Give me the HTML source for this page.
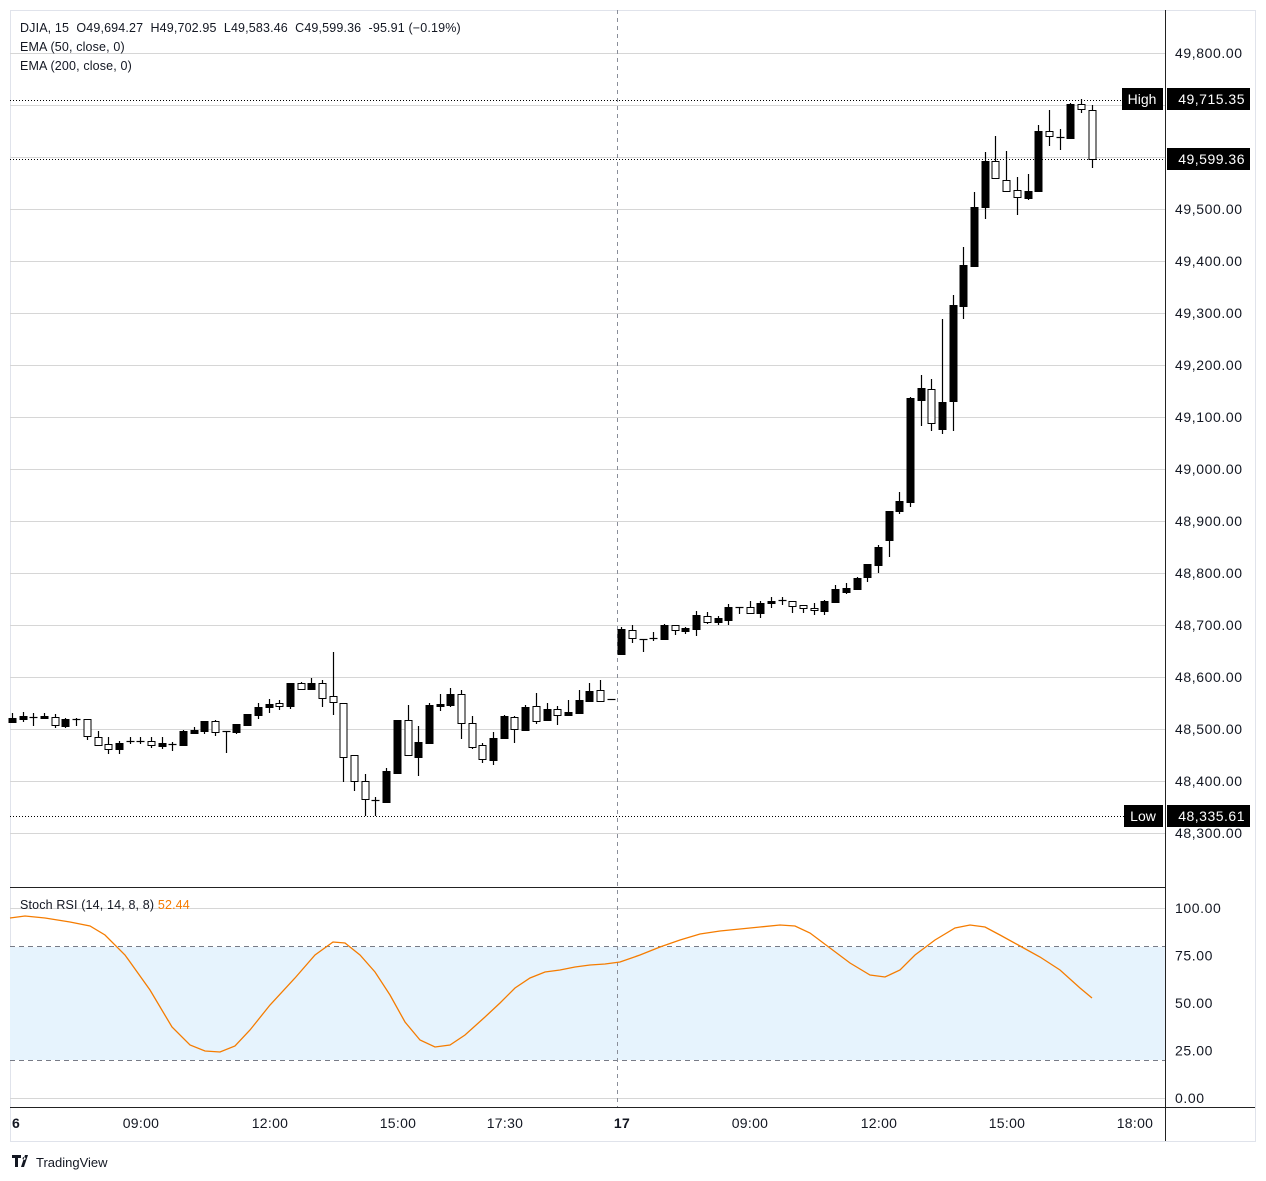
<!DOCTYPE html>
<html><head><meta charset="utf-8"><style>
html,body{margin:0;padding:0;background:#fff;}
svg{display:block;font-family:"Liberation Sans",sans-serif;}
text{white-space:pre;}
</style></head><body>
<svg id="s" width="1266" height="1181" viewBox="0 0 1266 1181" xmlns="http://www.w3.org/2000/svg">
<rect x="0" y="0" width="1266" height="1181" fill="#fff"/>
<rect x="10.5" y="10.5" width="1245" height="1131" fill="none" stroke="#e0e3eb"/>
<g id="grid" stroke="#d6d6d6" stroke-width="1"></g>
<rect x="10" y="947" width="1155" height="113" fill="#e6f3fd"/>
<line x1="10" y1="946.5" x2="1165" y2="946.5" stroke="#787b86" stroke-dasharray="5,4"/>
<line x1="10" y1="1060.5" x2="1165" y2="1060.5" stroke="#787b86" stroke-dasharray="5,4"/>
<line x1="617.5" y1="10" x2="617.5" y2="1108" stroke="#8a8e99" stroke-dasharray="4,4"/>
<line x1="10" y1="100.5" x2="1165" y2="100.5" stroke="#000" stroke-dasharray="1,2"/>
<line x1="10" y1="159.5" x2="1165" y2="159.5" stroke="#000" stroke-dasharray="1,2"/>
<line x1="10" y1="816.5" x2="1165" y2="816.5" stroke="#000" stroke-dasharray="1,2"/>
<g id="candles"></g>
<polyline fill="none" stroke="#f57c00" stroke-width="1.3" points="10,918 25,916 45,918 70,922 90,926 105,935 125,955 150,990 172,1027 190,1045 205,1051 220,1052 235,1046 250,1030 270,1005 295,978 315,955 333,942 345,943 360,955 375,972 390,995 405,1022 420,1040 435,1047 450,1045 465,1035 485,1017 500,1003 515,988 530,978 545,972 560,970 575,967 590,965 605,964 620,962 640,955 660,947 680,940 700,934 720,931 740,929 760,927 780,925 795,926 810,933 830,948 850,963 870,975 885,977 900,970 915,955 935,940 955,928 970,925 985,927 1000,935 1020,946 1040,957 1060,970 1080,988 1092,998"/>
<line x1="10" y1="887.5" x2="1165" y2="887.5" stroke="#222"/>
<line x1="10" y1="1107.5" x2="1255" y2="1107.5" stroke="#222"/>
<line x1="1165.5" y1="10" x2="1165.5" y2="1141" stroke="#222"/>
<g font-size="12.5" fill="#131722" letter-spacing="0.15">
<text x="20" y="32">DJIA, 15  O49,694.27  H49,702.95  L49,583.46  C49,599.36  -95.91 (−0.19%)</text>
<text x="20" y="51">EMA (50, close, 0)</text>
<text x="20" y="70">EMA (200, close, 0)</text>
<text x="20" y="909">Stoch RSI (14, 14, 8, 8) <tspan fill="#f57c00">52.44</tspan></text>
</g>
<g id="axis" font-size="14" fill="#131722" letter-spacing="0.6"></g>
<g font-size="14" fill="#131722" text-anchor="middle" letter-spacing="0.3">
<text x="16" y="1128" font-weight="bold">6</text>
<text x="141" y="1128">09:00</text><text x="270" y="1128">12:00</text><text x="398" y="1128">15:00</text><text x="505" y="1128">17:30</text>
<text x="622" y="1128" font-weight="bold">17</text>
<text x="750" y="1128">09:00</text><text x="879" y="1128">12:00</text><text x="1007" y="1128">15:00</text><text x="1135" y="1128">18:00</text>
</g>
<rect x="1122" y="88" width="41" height="22" fill="#000"/><text x="1142" y="104" font-size="14" fill="#fff" text-anchor="middle">High</text>
<rect x="1167" y="88" width="83" height="22" fill="#000"/><text x="1245" y="104" font-size="14" fill="#fff" text-anchor="end" letter-spacing="0.5">49,715.35</text>
<rect x="1167" y="148" width="83" height="22" fill="#000"/><text x="1245" y="164" font-size="14" fill="#fff" text-anchor="end" letter-spacing="0.5">49,599.36</text>
<rect x="1124" y="805" width="39" height="22" fill="#000"/><text x="1143" y="821" font-size="14" fill="#fff" text-anchor="middle">Low</text>
<rect x="1167" y="805" width="83" height="22" fill="#000"/><text x="1245" y="821" font-size="14" fill="#fff" text-anchor="end" letter-spacing="0.5">48,335.61</text>
<g transform="translate(12,1155)"><path d="M0 0h9v3h-3v9h-3v-9h-3z M9 12l4-12h3l-4 12z M12 2a1.5 1.5 0 1 0 0.1 0" fill="#131722"/></g>
<text x="36" y="1167" font-size="13" fill="#131722">TradingView</text>
</svg>
<script>
var NS="http://www.w3.org/2000/svg";
function el(p,t,a){var e=document.createElementNS(NS,t);for(var k in a)e.setAttribute(k,a[k]);p.appendChild(e);return e;}
var g=document.getElementById('grid'),ax=document.getElementById('axis');
for(var p=49800;p>=48300;p-=100){var y=53+(49800-p)*0.52;el(g,'line',{x1:10,x2:1165,y1:y+0.5,y2:y+0.5});
if(p!=49700){var t=el(ax,'text',{x:1175,y:y+5});t.textContent=(p/1000).toFixed(3).replace('.',',')+'.00';}}
[[100,908],[75,955.5],[50,1003],[25,1050.5],[0,1098]].forEach(function(a){el(g,'line',{x1:10,x2:1165,y1:a[1]+0.5,y2:a[1]+0.5});var t=el(ax,'text',{x:1175,y:a[1]+5});t.textContent=a[0].toFixed(2);});
var C=[[718,722,713,722,1],[716,719,712,721,1],[717,717,713,725,2],[716,718,713,718,1],[717,725,714,727,0],[719,726,718,727,1],[719,719,718,725,2],[719,736,719,739,0],[737,745,731,745,0],[744,749,737,753,0],[743,749,741,753,1],[741,741,737,743,2],[741,741,737,743,2],[741,745,737,747,0],[743,746,737,748,1],[744,744,742,750,2],[731,745,730,745,1],[730,733,727,733,1],[721,731,721,733,1],[721,732,720,735,0],[731,731,731,752,2],[724,732,724,733,1],[714,725,714,725,1],[707,715,703,718,1],[704,707,699,712,1],[703,706,700,709,0],[683,706,683,708,1],[683,689,682,689,0],[683,689,678,689,1],
[683,698,680,706,0],[696,702,652,714,0],[703,757,703,781,0],[755,781,755,790,0],[781,799,774,815,0],[800,800,797,815,2],[771,802,768,802,1],[720,773,720,773,1],[720,755,705,755,0],[742,757,726,775,1],[705,743,703,743,1],[704,706,694,710,1],[694,705,688,706,1],[694,723,690,738,0],[723,747,716,748,0],[745,759,743,762,0],[738,760,732,764,1],[716,738,715,738,1],[717,729,716,742,0],[707,730,705,730,1],[706,721,693,723,0],[709,720,703,720,1],[709,715,706,724,0],[712,715,700,715,1],[700,713,690,713,1],[691,701,683,701,1],[690,701,680,701,0],[699,699,699,699,2],
[629,654,627,654,1],[630,638,625,642,0],[639,639,639,651,2],[638,638,632,640,2],[625,639,624,639,1],[625,630,625,634,0],[628,631,627,633,1],[615,629,611,635,1],[616,622,612,623,0],[618,622,616,624,1],[607,620,604,624,1],[607,607,607,613,2],[607,613,601,613,0],[603,613,601,617,1],[601,603,597,607,1],[600,600,597,604,2],[601,606,601,612,0],[605,608,605,612,0],[608,610,603,614,0],[601,611,600,614,1],[589,602,585,602,1],[588,592,583,593,1],[578,589,577,589,1],[564,577,564,581,1],[547,565,545,572,1],[511,540,511,556,1],[501,511,492,513,1],[398,502,397,506,1],[388,400,375,425,1],[389,423,379,430,0],[402,429,319,433,1],[305,401,295,430,1],[265,306,247,318,1],[207,266,192,266,1],[161,207,152,218,1],[161,178,136,178,0],[180,191,151,191,0],[190,197,177,214,0],[191,198,174,199,1],[131,191,125,191,1],[131,136,110,145,0],[137,137,129,149,2],[104,138,103,138,1],[104,109,99,112,0],[110,159,105,167,0]];
var cg=document.getElementById('candles');
C.forEach(function(c,i){var x=12+i*10.69,xc=Math.round(x)+0.5;
el(cg,'line',{x1:xc,x2:xc,y1:c[2],y2:c[3]+1,stroke:'#000','stroke-width':1.2});
if(c[4]==2){el(cg,'line',{x1:xc-4,x2:xc+4,y1:c[0]+0.5,y2:c[0]+0.5,stroke:'#000','stroke-width':1.2});}
else{var h=Math.max(c[1]-c[0],2);el(cg,'rect',{x:xc-3.5,y:c[0]+0.5,width:7,height:h,fill:c[4]?'#000':'#fff',stroke:'#000','stroke-width':1});}
});
</script>
</body></html>
